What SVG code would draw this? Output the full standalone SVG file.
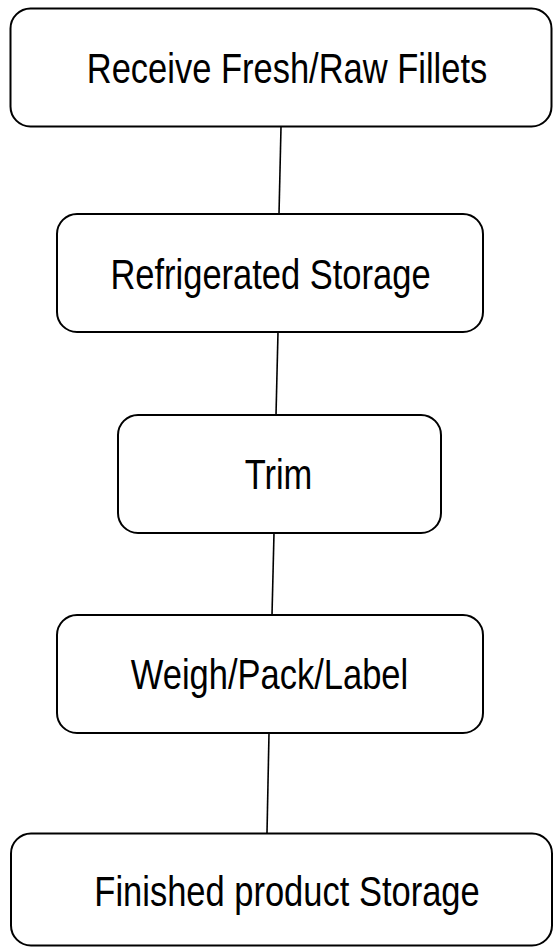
<svg xmlns="http://www.w3.org/2000/svg" width="553" height="948" viewBox="0 0 553 948">
<style>
.box{fill:#fff;stroke:#000;stroke-width:2}
.lbl{font-family:"Liberation Sans",Arial,sans-serif;font-size:34.5px;fill:#000;text-anchor:middle}
.conn{stroke:#000;stroke-width:1.6;fill:none}
</style>
<rect width="553" height="948" fill="#fff"/>
<g id="connectors">
<line class="conn" x1="281" y1="127" x2="279" y2="214"/>
<line class="conn" x1="278" y1="332" x2="276" y2="415"/>
<line class="conn" x1="274" y1="533" x2="272" y2="615"/>
<line class="conn" x1="269" y1="733" x2="267" y2="833"/>
</g>
<g id="receive">
<rect class="box" x="10.5" y="8.5" width="541" height="118" rx="20"/>
<text class="lbl" transform="translate(287 83) scale(1 1.22)">Receive Fresh/Raw Fillets</text>
</g>
<g id="refrigerated">
<rect class="box" x="57" y="214" width="426" height="118" rx="20"/>
<text class="lbl" transform="translate(270.5 289) scale(1 1.22)">Refrigerated Storage</text>
</g>
<g id="trim">
<rect class="box" x="118" y="415" width="323" height="118" rx="20"/>
<text class="lbl" transform="translate(278.5 489) scale(1 1.22)">Trim</text>
</g>
<g id="weigh">
<rect class="box" x="57" y="615" width="426" height="118" rx="20"/>
<text class="lbl" transform="translate(269.5 689) scale(1 1.22)">Weigh/Pack/Label</text>
</g>
<g id="finished">
<rect class="box" x="11" y="833.5" width="541" height="112" rx="20"/>
<text class="lbl" transform="translate(287 906) scale(1 1.22)">Finished product Storage</text>
</g>
</svg>
